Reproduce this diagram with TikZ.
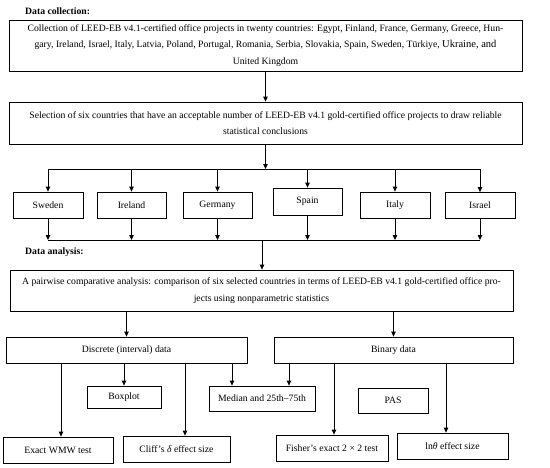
\documentclass[tikz,border=0pt]{standalone}
\usepackage{fontspec}
\setmainfont{Liberation Serif}
\usetikzlibrary{arrows.meta}
\begin{document}
\begin{tikzpicture}[x=1pt,y=-1pt,
  every node/.style={font=\fontsize{9.7}{16.5}\selectfont},
  box/.style={draw,line width=0.8pt,inner sep=0pt,align=center},
  arr/.style={line width=0.8pt,-{Triangle[length=5pt,width=4.5pt]}},
  ln/.style={line width=0.8pt},
  head/.style={font=\fontsize{9.7}{10}\selectfont\bfseries,anchor=west,inner sep=0pt}]
\useasboundingbox (0,0) rectangle (550,467);
\node[head] (h1) at (25,11) {Data collection:};
\node[box,minimum width=513pt,minimum height=51pt] (c1) at (265.5,45.5)
 {Collection of LEED-EB v4.1-certified office projects in twenty countries: Egypt, Finland, France, Germany, Greece, Hun-\\
  gary, Ireland, Israel, Italy, Latvia, Poland, Portugal, Romania, Serbia, Slovakia, Spain, Sweden, Türkiye, {\fontsize{10.5}{16.5}\selectfont Ukraine, and}\\
  United Kingdom};
\node[box,minimum width=513pt,minimum height=42pt] (c2) at (265.5,123)
 {Selection of six countries that have an acceptable number of LEED-EB v4.1 gold-certified office projects to draw reliable\\
  statistical conclusions};
\draw[arr] (c1.south) -- (c2.north);
\coordinate (b1L) at (48,169);
\coordinate (b1R) at (480,169);
\coordinate (b1M) at (265.5,169);
\draw[arr] (c2.south) -- (b1M);
\draw[ln] (b1L) -- (b1R);
\node[box,minimum width=70pt,minimum height=26pt] (swe) at (48,205) {Sweden};
\node[box,minimum width=69pt,minimum height=26pt] (ire) at (131.5,205) {Ireland};
\node[box,minimum width=69pt,minimum height=26pt] (ger) at (217.5,205) {Germany};
\node[box,minimum width=69pt,minimum height=27pt] (spa) at (307.5,201.5) {Spain};
\node[box,minimum width=70pt,minimum height=26pt] (ita) at (395,205) {Italy};
\node[box,minimum width=70pt,minimum height=26pt] (isr) at (480,205.5) {Israel};
\coordinate (b2L) at (48,240);
\coordinate (b2R) at (480,240);
\coordinate (b2M) at (262,240);
\foreach \n in {swe,ire,ger,spa,ita,isr}{
  \draw[arr] (\n.north |- b1L) -- (\n.north);
  \draw[arr] (\n.south) -- (\n.south |- b2L);
}
\draw[ln] (b2L) -- (b2R);
\node[head] (h2) at (25,252) {Data analysis:};
\node[box,minimum width=503pt,minimum height=41pt] (c3) at (261.5,290.5)
 {A pairwise comparative analysis: comparison of six selected countries in terms of LEED-EB v4.1 gold-certified office pro-\\
  jects using nonparametric statistics};
\draw[arr] (b2M) -- (b2M |- c3.north);
\node[box,minimum width=241pt,minimum height=26pt] (disc) at (126.5,350) {Discrete (interval) data};
\node[box,minimum width=239pt,minimum height=26pt] (bin) at (393.5,350) {Binary data};
\draw[arr] (c3.south -| disc.north) -- (disc.north);
\draw[arr] (c3.south -| bin.north) -- (bin.north);
\node[box,minimum width=74pt,minimum height=22pt] (boxp) at (124,397) {Boxplot};
\node[box,minimum width=106pt,minimum height=25pt] (med) at (262,398.5) {Median and 25th–75th};
\node[box,minimum width=70pt,minimum height=25pt] (pas) at (393,400.5) {PAS};
\node[box,minimum width=110pt,minimum height=26pt] (wmw) at (58,450) {Exact WMW test};
\node[box,minimum width=107pt,minimum height=26pt] (cliff) at (176.5,449) {Cliff’s \textit{δ} effect size};
\node[box,minimum width=112pt,minimum height=26pt] (fish) at (332,448) {Fisher’s exact 2 × 2 test};
\node[box,minimum width=111pt,minimum height=26pt] (lnt) at (452.5,446) {ln\textit{θ} effect size};
\draw[arr] ([xshift=3pt]wmw.north |- disc.south) -- ([xshift=3pt]wmw.north);
\draw[arr] (boxp.north |- disc.south) -- (boxp.north);
\draw[arr] ([xshift=8.5pt]cliff.north |- disc.south) -- ([xshift=8.5pt]cliff.north);
\draw[arr] ([xshift=-30pt]med.north |- disc.south) -- ([xshift=-30pt]med.north);
\draw[arr] ([xshift=27pt]med.north |- bin.south) -- ([xshift=27pt]med.north);
\draw[arr] ([xshift=2pt]fish.north |- bin.south) -- ([xshift=2pt]fish.north);
\draw[arr] ([xshift=-6.5pt]lnt.north |- bin.south) -- ([xshift=-6.5pt]lnt.north);
\end{tikzpicture}
\end{document}
